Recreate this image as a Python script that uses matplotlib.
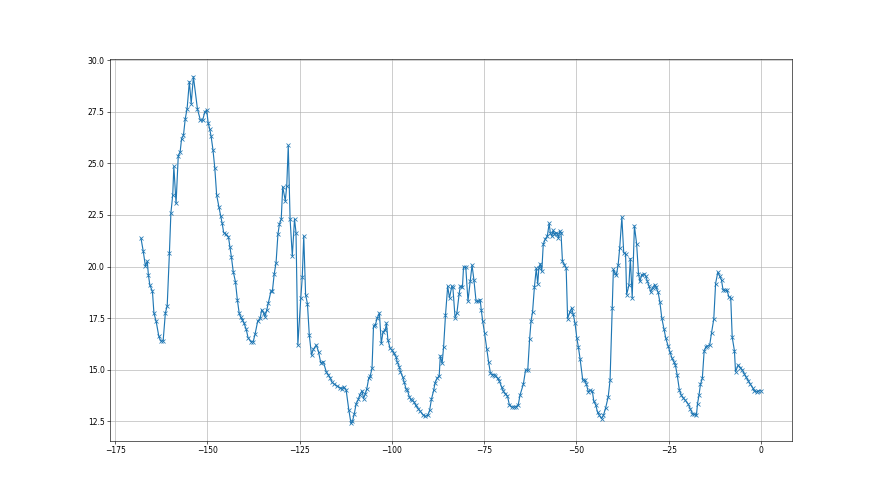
import matplotlib
matplotlib.use("Agg")
import matplotlib.pyplot as plt

# hours before the last reading
hours = [
    -168.0, -167.4, -166.8, -166.3, -166.0, -165.6, -164.9, -164.5, -163.9, -163.2,
    -162.7, -162.0, -161.4, -160.9, -160.3, -159.9, -159.4, -159.1, -158.5, -157.9,
    -157.4, -157.0, -156.5, -156.0, -155.5, -154.9, -154.4, -153.8,
    -152.7, -151.9, -151.3, -150.7, -150.2, -149.8, -149.4, -149.0, -148.5, -148.0,
    -147.5, -146.9, -146.4, -146.0, -145.6, -145.0, -144.3, -143.9, -143.5, -143.0,
    -142.4, -141.9, -141.4, -141.0, -140.5, -140.1, -139.5, -139.0,
    -138.2, -137.6, -137.1, -136.4, -135.7, -135.3, -134.8, -134.4, -133.9, -133.5,
    -132.8, -132.4, -131.9, -131.4, -130.9, -130.5, -130.0, -129.6, -128.9, -128.5,
    -128.1, -127.6, -127.0, -126.4, -126.0, -125.5, -124.7, -124.3, -123.9, -123.4, -122.9,
    -122.4, -121.8, -121.3, -120.5, -119.9, -119.3, -118.6, -117.8, -117.2, -116.7,
    -116.3, -115.6, -114.9, -114.2, -113.6, -113.1, -112.4, -111.7, -111.1,
    -110.7, -110.2, -109.7, -109.1, -108.7,
    -108.1, -107.7, -107.2, -106.8, -106.3, -105.9, -105.4, -105.0, -104.5, -104.0,
    -103.4, -102.9, -102.4, -101.8, -101.5, -101.1, -100.5, -100.0, -99.5, -98.9,
    -98.6, -98.0, -97.7, -97.1, -96.7, -96.2, -95.8, -95.3, -94.9, -94.5, -94.0,
    -93.6, -92.9, -92.3, -91.6, -91.0, -90.3, -89.8, -89.3, -88.7, -88.3,
    -87.8, -87.2, -86.9, -86.4, -86.0, -85.5, -84.9, -84.4, -83.8, -83.5,
    -82.9, -82.4, -81.8, -81.5, -80.9, -80.6, -80.0, -79.4, -78.8, -78.3,
    -77.8, -77.2, -76.7, -76.1, -75.8, -75.4, -74.9, -74.3, -73.8, -73.3,
    -72.9, -72.3, -72.0, -71.4, -70.9, -70.3, -69.8, -69.3, -68.7, -68.2,
    -67.6, -66.9, -66.4, -65.8, -65.3, -64.4, -63.8, -63.2, -62.7, -62.3,
    -61.9, -61.4, -60.9, -60.5, -60.2, -59.8, -59.4, -59.0, -58.5, -57.9,
    -57.4, -57.1, -56.7, -56.3, -56.0, -55.6, -55.2, -54.9, -54.5, -54.2,
    -53.8, -53.3, -52.8, -52.4, -51.8, -51.3, -50.9, -50.4, -49.9, -49.5,
    -49.0, -48.3, -47.7, -47.3, -46.8, -46.3, -45.7, -45.3, -44.8, -44.3,
    -43.8, -43.2, -42.7, -42.1, -41.4, -40.9, -40.3, -40.0, -39.6, -39.2,
    -38.7, -38.3, -37.7, -37.2, -36.7, -36.4, -35.8, -35.4, -34.9, -34.3,
    -33.7, -33.2, -32.8, -32.3, -31.7, -31.2, -30.8, -30.3, -29.9, -29.4,
    -28.8, -28.5, -27.9, -27.4, -26.9, -26.3, -25.8, -25.2, -24.7, -24.1,
    -23.6, -23.2, -22.7, -22.1, -21.6, -21.1, -20.5, -19.7, -19.2, -18.6,
    -18.1, -17.5, -17.2, -16.8, -16.4, -15.9, -15.4, -15.0, -14.5, -13.9,
    -13.4, -12.8, -12.3, -11.7, -11.2, -10.7, -10.3, -9.8, -9.2, -8.7,
    -8.2, -7.8, -7.2, -6.9, -6.2, -5.6, -5.1, -4.5, -4.0, -3.4,
    -2.9, -2.3, -1.8, -1.2, -0.7, 0.0,
]

# temperature readings
temps = [
    21.37, 20.75, 20.02, 20.26, 19.6, 19.1, 18.8, 17.75, 17.35, 16.65,
    16.4, 16.4, 17.75, 18.1, 20.67, 22.6, 23.47, 24.85, 23.06, 25.38,
    25.55, 26.2, 26.36, 27.17, 27.66, 28.96, 27.9, 29.2,
    27.63, 27.09, 27.09, 27.5, 27.58, 26.96, 26.68, 26.31, 25.66, 24.77,
    23.47, 22.9, 22.46, 22.09, 21.65, 21.56, 21.43, 20.95, 20.46, 19.75,
    19.26, 18.4, 17.75, 17.55, 17.42, 17.26, 16.97, 16.56,
    16.36, 16.36, 16.72, 17.34, 17.5, 17.91, 17.75, 17.58, 17.91, 18.24,
    18.8, 18.8, 19.65, 20.19, 21.56, 22.05, 22.3, 23.87, 23.19, 23.92,
    25.87, 22.3, 20.51, 22.3, 21.65, 16.2, 18.48, 19.5, 21.48, 18.64, 18.2,
    16.69, 15.71, 15.99, 16.2, 15.88, 15.34, 15.39, 14.9, 14.74, 14.6,
    14.41, 14.3, 14.22, 14.14, 14.09, 14.17, 14.0, 13.07, 12.41,
    12.51, 12.87, 13.36, 13.56, 13.8,
    13.98, 13.6, 13.85, 14.09, 14.58, 14.69, 15.07, 17.1, 17.18, 17.5,
    17.75, 16.28, 16.85, 16.93, 17.26, 16.45, 16.04, 15.96, 15.8, 15.63,
    15.39, 15.14, 14.9, 14.66, 14.41, 14.09, 14.0, 13.69, 13.56, 13.52, 13.44,
    13.28, 13.12, 12.98, 12.82, 12.75, 12.79, 13.03, 13.57, 14.0, 14.38,
    14.58, 14.7, 15.68, 15.31, 16.12, 17.63, 19.04, 18.48, 19.04, 19.0,
    17.53, 17.75, 18.67, 19.04, 19.0, 19.98, 19.98, 18.33, 19.3, 20.07,
    19.37, 18.31, 18.31, 18.4, 17.91, 17.34, 16.77, 16.0, 15.36, 14.82,
    14.77, 14.77, 14.7, 14.61, 14.45, 14.17, 13.96, 13.85, 13.73, 13.31,
    13.2, 13.2, 13.2, 13.28, 13.77, 14.3, 14.98, 14.98, 16.49, 17.37,
    17.8, 19.0, 19.91, 19.16, 19.91, 20.14, 19.78, 21.08, 21.32, 21.48,
    22.09, 21.65, 21.48, 21.76, 21.56, 21.65, 21.6, 21.37, 21.73, 21.65,
    20.26, 20.1, 19.94, 17.47, 17.8, 17.99, 17.7, 17.26, 16.53, 16.12,
    15.5, 14.5, 14.5, 14.29, 13.93, 14.0, 13.96, 13.47, 13.31, 12.95,
    12.79, 12.63, 12.79, 13.15, 13.69, 14.5, 17.99, 19.86, 19.7, 19.58,
    20.1, 20.88, 22.38, 20.67, 20.62, 18.64, 19.09, 20.39, 18.48, 21.97,
    21.1, 19.65, 19.29, 19.61, 19.65, 19.53, 19.29, 19.04, 18.77, 18.97,
    19.13, 19.0, 18.77, 18.28, 17.53, 16.98, 16.53, 16.17, 15.88, 15.55,
    15.39, 15.23, 14.74, 14.0, 13.77, 13.64, 13.52, 13.33, 13.12, 12.87,
    12.84, 12.79, 13.36, 13.77, 14.3, 14.58, 15.92, 16.09, 16.15, 16.2,
    16.8, 17.45, 19.18, 19.73, 19.53, 19.34, 18.88, 18.85, 18.85, 18.53,
    18.48, 16.58, 15.92, 14.9, 15.23, 15.1, 15.0, 14.8, 14.63, 14.46,
    14.3, 14.14, 13.98, 13.93, 13.98, 13.98,
]

fig, ax = plt.subplots(figsize=(16, 9), dpi=55)
ax.plot(hours, temps, marker='x')
ax.grid(True)

plt.savefig('out.png')
